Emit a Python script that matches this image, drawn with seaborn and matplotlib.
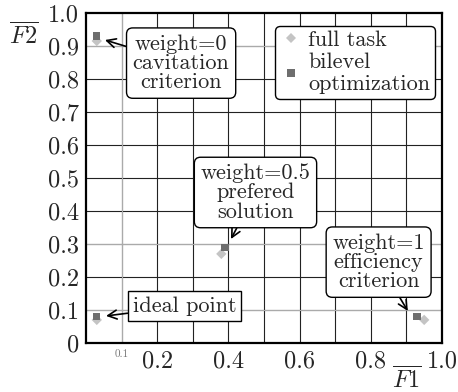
import numpy as np
import pandas as pd
import seaborn as sns
import matplotlib.pyplot as plt

# values
f1_full = [0.03, 0.03, 0.38, 0.95]
f2_full = [0.915, 0.07, 0.27, 0.07]
f1_bilevel = [0.03, 0.03, 0.39, 0.93]
f2_bilevel = [0.93, 0.08, 0.29, 0.08]
series = ["full task", "bilevel\noptimization"]

x_ticks = [0.1, 0.2, 0.4, 0.6, 0.8, 1.0]
x_labels = ["0.1", "0.2", "0.4", "0.6", "0.8", "1.0"]
y_ticks = [0, 0.1, 0.2, 0.3, 0.4, 0.5, 0.6, 0.7, 0.8, 0.9, 1.0]
y_labels = ["0", "0.1", "0.2", "0.3", "0.4", "0.5", "0.6", "0.7", "0.8", "0.9", "1.0"]

df = pd.DataFrame({
    "F1": f1_full + f1_bilevel,
    "F2": f2_full + f2_bilevel,
    "kind": [series[0]] * len(f1_full) + [series[1]] * len(f1_bilevel),
})

sns.set_style("white")
plt.rcParams["font.family"] = ["cmr10", "DejaVu Serif"]
plt.rcParams["mathtext.fontset"] = "cm"
plt.rcParams["axes.formatter.use_mathtext"] = True

fig = plt.figure(figsize=(4.58, 3.92), dpi=100)
ax = fig.add_axes([0.188, 0.125, 0.777, 0.842])

# grid first
for v in np.arange(0.1, 1.0, 0.1):
    ax.axvline(v, color="#222222", lw=0.8, zorder=0)
    ax.axhline(v, color="#222222", lw=0.8, zorder=0)
for v in [0.1]:
    ax.axvline(v, color="#aaaaaa", lw=0.8, zorder=0.5)
for v in [0.1, 0.3, 0.9]:
    ax.axhline(v, color="#aaaaaa", lw=0.8, zorder=0.5)

sns.scatterplot(data=df, x="F1", y="F2", hue="kind", style="kind",
                markers={series[0]: "D", series[1]: "s"},
                palette={series[0]: "#c4c4c4", series[1]: "#6e6e6e"},
                s=28, linewidth=0, ax=ax, zorder=3)

ax.set_xlim(0, 1)
ax.set_ylim(0, 1)
ax.set_xticks(x_ticks)
ax.set_xticklabels(x_labels, fontsize=17.5)
ax.get_xticklabels()[0].set_fontsize(8)
ax.get_xticklabels()[0].set_color("#777777")
ax.set_yticks(y_ticks)
ax.set_yticklabels(y_labels, fontsize=17.5)
ax.tick_params(length=0, pad=5)
ax.set_xlabel("")
ax.set_ylabel("")
for s in ax.spines.values():
    s.set_linewidth(1.6)
    s.set_color("black")

fig.text(0.052, 0.908, r"$\overline{F2}$", fontsize=17.5, ha="center", va="center")
fig.text(0.889, 0.03, r"$\overline{F1}$", fontsize=17.5, ha="center", va="center")

leg = ax.legend(loc="upper right", bbox_to_anchor=(0.98, 0.96), fontsize=16,
                frameon=True, fancybox=True, handletextpad=0.3,
                borderpad=0.2, labelspacing=0.1, handlelength=1.0,
                borderaxespad=0, markerscale=1.0)
leg.get_frame().set_edgecolor("black")
leg.get_frame().set_linewidth(1.0)
leg.get_frame().set_alpha(1)

arrow = dict(arrowstyle="->", color="black", lw=1.2, shrinkA=0, shrinkB=0)
box_r = dict(boxstyle="round,pad=0.28", fc="white", ec="black", lw=1.0)
box_s = dict(boxstyle="square,pad=0.22", fc="white", ec="black", lw=1.0)

ax.annotate("weight=0\ncavitation\ncriterion", xy=(0.053, 0.918), xytext=(0.267, 0.848),
            ha="center", va="center", fontsize=16, bbox=box_r, arrowprops=arrow,
            linespacing=0.98, zorder=5)
ax.annotate("weight=0.5\nprefered\nsolution", xy=(0.407, 0.315), xytext=(0.476, 0.456),
            ha="center", va="center", fontsize=16, bbox=box_r, arrowprops=arrow,
            linespacing=0.98, zorder=5)
ax.annotate("ideal point", xy=(0.056, 0.082), xytext=(0.277, 0.112),
            ha="center", va="center", fontsize=16, bbox=box_s, arrowprops=arrow,
            zorder=5)
ax.annotate("weight=1\nefficiency\ncriterion", xy=(0.904, 0.097), xytext=(0.822, 0.245),
            ha="center", va="center", fontsize=16, bbox=box_r, arrowprops=arrow,
            linespacing=0.98, zorder=5)

fig.savefig("out.png", dpi=100)
